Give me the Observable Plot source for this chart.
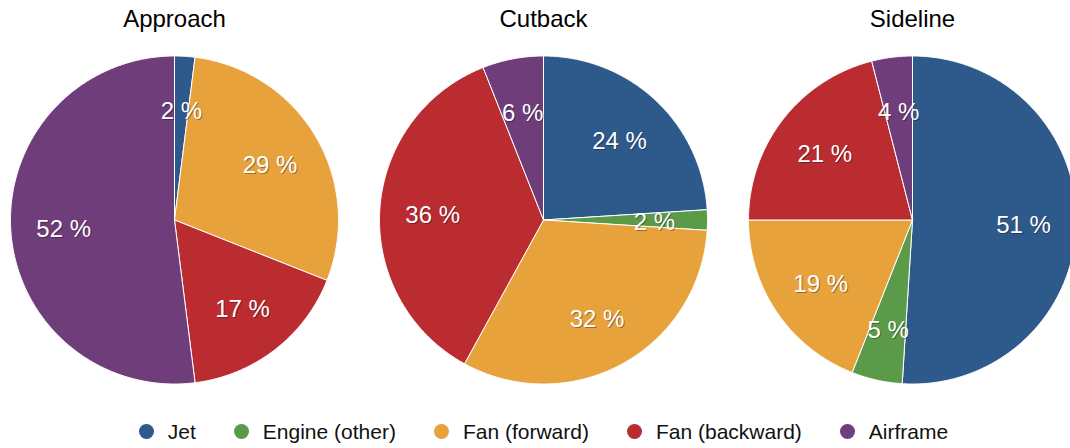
<!DOCTYPE html>
<html>
<head>
<meta charset="utf-8">
<script src="https://cdn.jsdelivr.net/npm/d3@7"></script>
<script src="https://cdn.jsdelivr.net/npm/@observablehq/plot@0.6"></script>
<style>
  html, body { margin: 0; padding: 0; background: #fff; overflow: hidden; }
  #chart { width: 1070px; }
  #legend {
    display: flex; justify-content: center; align-items: center;
    height: 43px; padding-left: 17px; box-sizing: border-box;
    font-family: "Liberation Sans", Helvetica, Arial, sans-serif;
    font-size: 21px; color: #111;
  }
  .item { display: flex; align-items: center; margin: 0 19px; }
  .dot { width: 15px; height: 15px; border-radius: 50%; margin-right: 14px; }
</style>
</head>
<body>
<div id="chart"></div>
<div id="legend"></div>
<script>
// ---- data ----
const scenarios = ["Approach", "Cutback", "Sideline"];
const sources = ["Jet", "Engine (other)", "Fan (forward)", "Fan (backward)", "Airframe"];
const approach = [2, 0, 29, 17, 52];
const cutback = [24, 2, 32, 36, 6];
const sideline = [51, 5, 19, 21, 4];
const colors = ["#2e5a8b", "#5b9a49", "#e8a23c", "#bb2c31", "#6e3d7a"];

// ---- layout ----
const W = 1070, H = 410;
const R = 164;            // pie radius in px
const cx0 = 174, cy = 219.5, step = 369; // px
const labelR = 0.677;

const series = [approach, cutback, sideline];
const pie = d3.pie().sort(null).value(d => d.value);

const slices = [];   // polygon points
const labels = [];
series.forEach((vals, i) => {
  const center = i * step / R;
  const arcs = pie(vals.map((v, k) => ({source: sources[k], value: v})));
  arcs.forEach(a => {
    if (a.data.value <= 0) return;
    const key = scenarios[i] + "|" + a.data.source;
    const n = Math.max(2, Math.ceil((a.endAngle - a.startAngle) / (Math.PI / 360)));
    slices.push({key, source: a.data.source, x: center, y: 0});
    for (let j = 0; j <= n; j++) {
      const t = a.startAngle + (a.endAngle - a.startAngle) * j / n;
      slices.push({key, source: a.data.source, x: center + Math.sin(t), y: Math.cos(t)});
    }
    slices.push({key, source: a.data.source, x: center, y: 0});
    const m = (a.startAngle + a.endAngle) / 2;
    labels.push({x: center + labelR * Math.sin(m), y: labelR * Math.cos(m), text: a.data.value + " %"});
  });
});

const font = '"Liberation Sans", Helvetica, Arial, sans-serif';

const chart = Plot.plot({
  width: W, height: H,
  margin: 0,
  style: {background: "#fff", fontFamily: font},
  x: {domain: [-cx0 / R, (W - cx0) / R], range: [0, W], axis: null},
  y: {domain: [-(H - cy) / R, cy / R], range: [H, 0], axis: null},
  color: {domain: sources, range: colors, legend: false},
  marks: [
    Plot.line(slices, {x: "x", y: "y", z: "key", fill: "source", stroke: "#fff", strokeWidth: 1, curve: "linear", strokeLinejoin: "miter"}),
    Plot.text(labels, {x: "x", y: "y", text: "text", fontSize: 24, fill: "#000", fillOpacity: 0.35, dx: 1, dy: 3, lineAnchor: "middle", textAnchor: "middle", fontFamily: font}),
    Plot.text(labels, {x: "x", y: "y", text: "text", fontSize: 24, fill: "#fff", dy: 2, lineAnchor: "middle", textAnchor: "middle", fontFamily: font}),
    Plot.text(scenarios, {x: (d, i) => i * step / R, y: 1, text: d => d, dy: -29.5, lineAnchor: "bottom", textAnchor: "middle", fontSize: 24, fill: "#000", fontFamily: font})
  ]
});
document.getElementById("chart").appendChild(chart);

// legend
const legend = d3.select("#legend");
sources.forEach((s, k) => {
  const it = legend.append("div").attr("class", "item");
  it.append("div").attr("class", "dot").style("background", colors[k]);
  it.append("span").text(s);
});
</script>
</body>
</html>
